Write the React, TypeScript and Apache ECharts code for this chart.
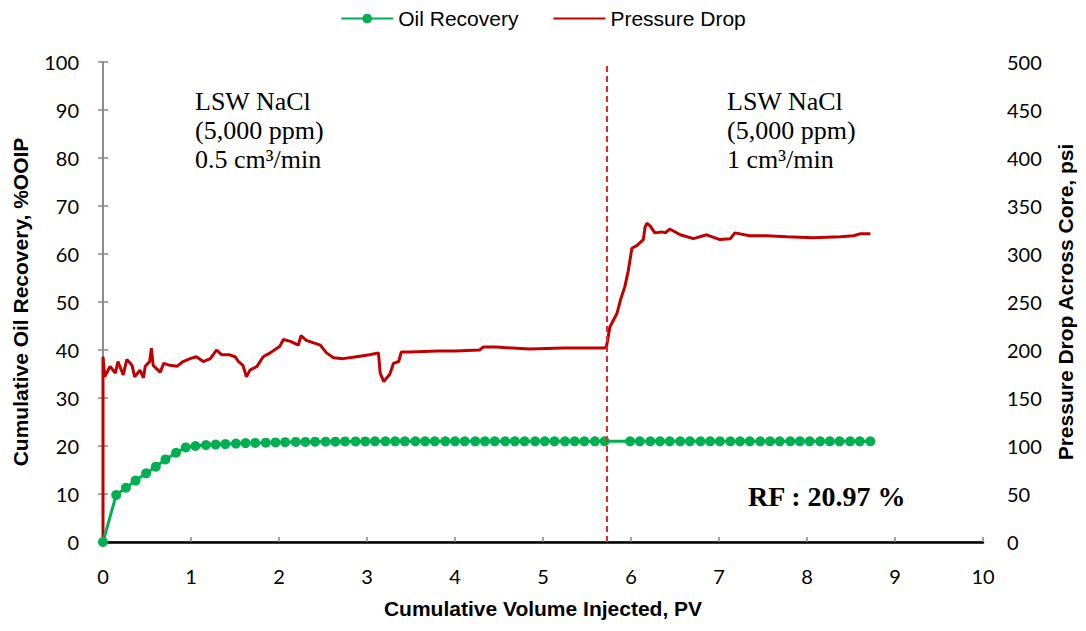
import React, { useEffect, useRef } from "react";
import * as echarts from "echarts";

const xTicks = [0, 1, 2, 3, 4, 5, 6, 7, 8, 9, 10];

const orX = [0, 0.15, 0.26, 0.37, 0.49, 0.60, 0.71, 0.83, 0.94, 1.05, 1.17, 1.28, 1.39, 1.51, 1.62, 1.73, 1.85, 1.96, 2.07, 2.19, 2.30, 2.41, 2.53, 2.64, 2.75, 2.87, 2.98, 3.09, 3.21, 3.32, 3.43, 3.55, 3.66, 3.77, 3.89, 4.00, 4.11, 4.23, 4.34, 4.45, 4.57, 4.68, 4.79, 4.91, 5.02, 5.13, 5.25, 5.36, 5.47, 5.59, 5.70, 5.99, 6.10, 6.22, 6.33, 6.44, 6.56, 6.67, 6.79, 6.90, 7.01, 7.13, 7.24, 7.35, 7.47, 7.58, 7.69, 7.81, 7.92, 8.03, 8.15, 8.26, 8.37, 8.49, 8.60, 8.72];
const orY = [0, 9.8, 11.3, 12.8, 14.3, 15.7, 17.2, 18.6, 19.7, 20.0, 20.2, 20.3, 20.4, 20.5, 20.6, 20.65, 20.7, 20.75, 20.8, 20.85, 20.85, 20.9, 20.9, 20.9, 20.95, 20.95, 20.95, 20.97, 20.97, 20.97, 20.97, 20.97, 20.97, 20.97, 20.97, 20.97, 20.97, 20.97, 20.97, 20.97, 20.97, 20.97, 20.97, 20.97, 20.97, 20.97, 20.97, 20.97, 20.97, 20.97, 20.97, 20.97, 20.97, 20.97, 20.97, 20.97, 20.97, 20.97, 20.97, 20.97, 20.97, 20.97, 20.97, 20.97, 20.97, 20.97, 20.97, 20.97, 20.97, 20.97, 20.97, 20.97, 20.97, 20.97, 20.97, 20.97];

const pdX = [0, 0, 0.02, 0.08, 0.14, 0.17, 0.23, 0.27, 0.33, 0.36, 0.42, 0.46, 0.48, 0.53, 0.55, 0.57, 0.65, 0.69, 0.76, 0.84, 0.91, 0.99, 1.06, 1.14, 1.22, 1.29, 1.35, 1.44, 1.50, 1.54, 1.59, 1.63, 1.67, 1.75, 1.82, 1.90, 2.01, 2.05, 2.13, 2.22, 2.25, 2.31, 2.47, 2.54, 2.62, 2.73, 2.88, 3.03, 3.13, 3.15, 3.19, 3.26, 3.30, 3.36, 3.39, 3.49, 3.80, 4.00, 4.28, 4.32, 4.47, 4.85, 5.23, 5.69, 5.72, 5.76, 5.84, 5.88, 5.93, 5.97, 6.01, 6.07, 6.14, 6.16, 6.18, 6.22, 6.27, 6.35, 6.39, 6.44, 6.56, 6.71, 6.86, 7.01, 7.13, 7.18, 7.35, 7.54, 7.77, 8.07, 8.38, 8.53, 8.60, 8.72];
const pdY = [0, 193, 172, 183, 176, 188, 174, 190, 184, 172, 179, 171, 183, 188, 202, 184, 177, 186, 184, 183, 188, 191, 193, 188, 191, 200, 195, 195, 193, 188, 184, 172, 179, 183, 193, 197, 204, 211, 209, 205, 215, 210, 205, 197, 192, 191, 193, 195, 197, 176, 167, 175, 186, 188, 198, 198, 199, 199, 200, 203, 203, 201, 202, 202, 203, 224, 238, 252, 266, 283, 306, 309, 315, 328, 332, 329, 322, 323, 322, 326, 320, 316, 320, 315, 316, 322, 319, 319, 318, 317, 318, 319, 321, 321];

const switchPV = 5.72;
const leftNote = ["LSW NaCl", "(5,000 ppm)", "0.5 cm³/min"];
const rightNote = ["LSW NaCl", "(5,000 ppm)", "1 cm³/min"];
const rfText = "RF : 20.97 %";

export default function App() {
  const ref = useRef<HTMLDivElement>(null);
  useEffect(() => {
    if (!ref.current) return;
    const chart = echarts.init(ref.current, null, { renderer: "svg" });
    const tickFont = { fontFamily: "Lato", fontSize: 20, color: "#000" };
    const nameFont = { fontFamily: "Liberation Sans", fontSize: 21, fontWeight: "bold" as const, color: "#000" };
    const axisLine = { show: true, lineStyle: { color: "#868686", width: 1.5 } };
    const axisTick = { show: true, inside: true, length: 5, lineStyle: { color: "#868686", width: 1.5 } };
    const noteText = (lines: string[], x: number) =>
      lines.map((t, i) => ({
        type: "text",
        left: x,
        top: 88 + i * 29,
        style: { text: t, font: '26px "Liberation Serif"', fill: "#000" },
      }));
    chart.setOption({
      animation: false,
      backgroundColor: "#fff",
      grid: { left: 103, right: 103, top: 62, bottom: 89, outerBoundsMode: "none", containLabel: false },
      legend: {
        top: 3,
        left: "center",
        itemWidth: 52,
        itemHeight: 12,
        itemGap: 34,
        textStyle: { fontFamily: "Liberation Sans", fontSize: 21, color: "#000" },
        data: [
          { name: "Oil Recovery" },
          { name: "Pressure Drop", itemStyle: { opacity: 0 } },
        ],
      },
      xAxis: [
        {
          type: "value",
          min: xTicks[0],
          max: xTicks[xTicks.length - 1],
          interval: 1,
          axisLine,
          axisTick,
          splitLine: { show: false },
          axisLabel: { ...tickFont, margin: 24 },
          name: "Cumulative Volume Injected, PV",
          nameLocation: "middle",
          nameGap: 56,
          nameTextStyle: nameFont,
        },
        {
          type: "value",
          position: "top",
          min: 0,
          max: 10,
          axisLine: { show: true, lineStyle: { color: "#000", width: 2.5 } },
          axisTick: { show: false },
          axisLabel: { show: false },
          splitLine: { show: false },
        },
      ],
      yAxis: [
        {
          type: "value",
          min: 0,
          max: 100,
          interval: 10,
          axisLine,
          axisTick,
          splitLine: { show: false },
          axisLabel: { ...tickFont, margin: 24 },
          name: "Cumulative Oil Recovery, %OOIP",
          nameLocation: "middle",
          nameGap: 72,
          nameTextStyle: nameFont,
        },
        {
          type: "value",
          position: "right",
          min: 0,
          max: 500,
          interval: 50,
          axisLine,
          axisTick,
          splitLine: { show: false },
          axisLabel: { ...tickFont, margin: 24 },
          name: "Pressure Drop Across Core, psi",
          nameLocation: "middle",
          nameGap: 72,
          nameRotate: 90,
          nameTextStyle: nameFont,
        },
      ],
      graphic: [
        ...noteText(leftNote, 195),
        ...noteText(rightNote, 727),
        {
          type: "text",
          left: 748,
          top: 482,
          style: { text: rfText, font: 'bold 28px "Liberation Serif"', fill: "#000" },
        },
      ],
      series: [
        {
          name: "Pressure Drop",
          type: "line",
          yAxisIndex: 1,
          data: pdX.map((x, i) => [x, pdY[i]]),
          showSymbol: false,
          symbol: "none",
          lineStyle: { color: "#C00000", width: 3 },
          itemStyle: { color: "#C00000" },
          z: 3,
          markLine: {
            silent: true,
            symbol: "none",
            label: { show: false },
            lineStyle: { color: "#E02B2B", type: [6, 4], width: 2 },
            data: [{ xAxis: switchPV }],
          },
        },
        {
          name: "Oil Recovery",
          type: "line",
          yAxisIndex: 0,
          data: orX.map((x, i) => [x, orY[i]]),
          symbol: "circle",
          symbolSize: 10,
          lineStyle: { color: "#00B050", width: 3 },
          itemStyle: { color: "#00B050" },
          z: 4,
        },
      ],
    });
    return () => chart.dispose();
  }, []);
  return (
    <div
      ref={ref}
      style={{ position: "fixed", left: 0, top: 0, width: 1086, height: 631, background: "#fff" }}
    />
  );
}
